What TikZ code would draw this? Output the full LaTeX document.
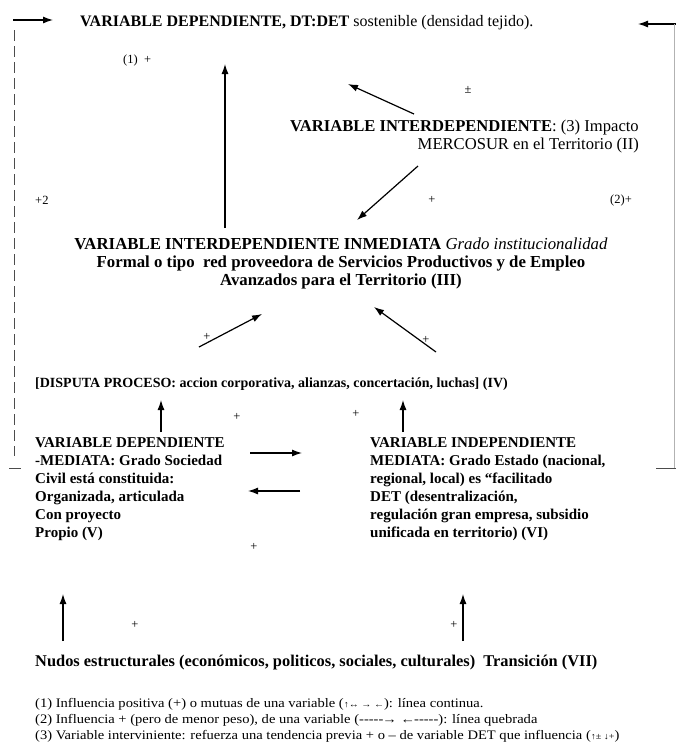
\documentclass[tikz,border=0pt]{standalone}
\usepackage{fontspec}
\setmainfont{Liberation Serif}
\newfontfamily\notefont{Liberation Serif}[FakeStretch=1.12]
\newcommand\tinyarr[1]{{\fontsize{9}{9}\selectfont #1}}
\usetikzlibrary{arrows.meta}
\begin{document}
\begin{tikzpicture}[x=1pt,y=-1pt,
  big/.style={inner sep=0pt, font=\fontsize{16.8}{18}\selectfont},
  lbl/.style={inner sep=0pt, font=\fontsize{15}{18}\selectfont\bfseries, align=left},
  sm/.style={inner sep=0pt, font=\notefont\fontsize{13}{16}\selectfont},
  sgn/.style={inner sep=0pt, font=\fontsize{12.5}{14}\selectfont},
  arr/.style={-{Latex[length=10pt,width=7pt]}, line width=1.2pt},
  frame/.style={line width=1pt, black!70}]
\useasboundingbox (0,0) rectangle (676,753);
% texts
\node[big, anchor=base west, font=\fontsize{16}{18}\selectfont] (dv) at (80,26) {\textbf{VARIABLE DEPENDIENTE, DT:DET} sostenible (densidad tejido).};
\node[big, anchor=north east, align=right, font=\fontsize{16.6}{18}\selectfont] (ii) at (639,120) {\textbf{VARIABLE INTERDEPENDIENTE}: (3) Impacto\\MERCOSUR en el Territorio (II)};
\node[big, anchor=north, align=center] (iii) at (341,238) {\textbf{VARIABLE INTERDEPENDIENTE INMEDIATA} \textit{Grado institucionalidad}\\\textbf{Formal o tipo\ \ red proveedora de Servicios Productivos y de Empleo}\\\textbf{Avanzados para el Territorio (III)}};
\node[lbl, anchor=base west, font=\fontsize{14}{18}\selectfont\bfseries] (iv) at (35,387) {[DISPUTA PROCESO: accion corporativa, alianzas, concertación, luchas] (IV)};
\node[lbl, anchor=north west] (v) at (35,437) {VARIABLE DEPENDIENTE\\-MEDIATA: Grado Sociedad\\Civil está constituida:\\Organizada, articulada\\Con proyecto\\Propio (V)};
\node[lbl, anchor=north west] (vi) at (370,437) {VARIABLE INDEPENDIENTE\\MEDIATA: Grado Estado (nacional,\\regional, local) es “facilitado\\DET (desentralización,\\regulación gran empresa, subsidio\\unificada en territorio) (VI)};
\node[lbl, anchor=base west, font=\fontsize{16.4}{18}\selectfont\bfseries] (vii) at (35,666) {Nudos estructurales (económicos, politicos, sociales, culturales)\ \ Transición (VII)};
\node[sm, anchor=north west, align=left] (notes) at (35,698) {(1) Influencia positiva (+) o mutuas de una variable (\tinyarr{↑↔ → ←}): línea continua.\\(2) Influencia + (pero de menor peso), de una variable (-\kern0pt-\kern0pt-\kern0pt-\kern0pt-\kern-1pt→ ←\kern-1pt-\kern0pt-\kern0pt-\kern0pt-\kern0pt-): línea quebrada\\(3) Variable interviniente: refuerza una tendencia previa + o – de variable DET que influencia (\tinyarr{↑± ↓+})};
% signs
\node[sgn, anchor=west] (m1) at (123,60) {(1)\ \ +};
\node[sgn] (m2) at (468,90) {±};
\node[sgn, anchor=west] (m3) at (35,200) {+2};
\node[sgn] (m4) at (432,200) {+};
\node[sgn, anchor=west] (m5) at (610,200) {(2)+};
\node[sgn] (m6) at (207,337) {+};
\node[sgn] (m7) at (426,340) {+};
\node[sgn] (m8) at (237,417) {+};
\node[sgn] (m9) at (356,414) {+};
\node[sgn] (m10) at (254,547) {+};
\node[sgn] (m11) at (135,625) {+};
\node[sgn] (m12) at (454,625) {+};
% coordinates
\coordinate (a1s) at (225,228); \coordinate (a1e) at (225,64);
\coordinate (a2s) at (414,114); \coordinate (a2e) at (348,84);
\coordinate (a3s) at (418,166); \coordinate (a3e) at (357,220);
\coordinate (a4s) at (199,347); \coordinate (a4e) at (262,314);
\coordinate (a5s) at (436,352); \coordinate (a5e) at (374,307);
\coordinate (a6s) at (161,432); \coordinate (a6e) at (161,400);
\coordinate (a7s) at (403,432); \coordinate (a7e) at (403,400);
\coordinate (a8s) at (250,453); \coordinate (a8e) at (302,453);
\coordinate (a9s) at (300,491); \coordinate (a9e) at (248,491);
\coordinate (a10s) at (63,641); \coordinate (a10e) at (63,594);
\coordinate (a11s) at (463,641); \coordinate (a11e) at (463,594);
\coordinate (tl0) at (13,20); \coordinate (tl1) at (53,20);
\coordinate (lt) at (14,30); \coordinate (lb) at (14,456);
\coordinate (lm0) at (9,468); \coordinate (lm1) at (21,468);
\coordinate (tr0) at (676,24); \coordinate (tr1) at (638,24);
\coordinate (rt) at (674,24); \coordinate (rb) at (674,468);
\coordinate (rm0) at (656,468); \coordinate (rm1) at (676,468);
% arrows
\foreach \a in {a1,a2,a3,a4,a5,a6,a7,a8,a9,a10,a11}
  \draw[arr] (\a s) -- (\a e);
\draw[arr] (tl0) -- (tl1);
\draw[arr] (tr0) -- (tr1);
\draw[frame, dash pattern=on 11pt off 5pt] (lt) -- (lb);
\draw[frame] (lm0) -- (lm1);
\draw[line width=0.7pt, black!30] (rt) -- (rb);
\draw[frame] (rm0) -- (rm1);
\end{tikzpicture}
\end{document}
